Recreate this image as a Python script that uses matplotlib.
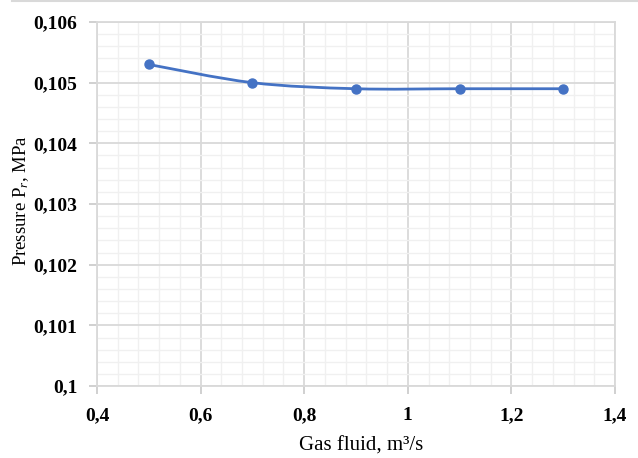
import matplotlib
matplotlib.use("Agg")
import matplotlib.pyplot as plt
import numpy as np
from matplotlib.path import Path
from matplotlib.patches import PathPatch
from matplotlib.ticker import MultipleLocator, FuncFormatter
from matplotlib.lines import Line2D

plt.rcParams['font.family'] = ['Liberation Serif', 'DejaVu Serif']
plt.rcParams['mathtext.fontset'] = 'custom'
plt.rcParams['mathtext.rm'] = 'Liberation Serif'
plt.rcParams['mathtext.it'] = 'Liberation Serif:italic'

# data
gas_flow = [0.5, 0.7, 0.9, 1.1, 1.3]
pressure = [0.1053, 0.1050, 0.1049, 0.1049, 0.1049]

line_color = '#4472C4'
major_grid = '#d9d9d9'
minor_grid = '#f0f0f0'

fig = plt.figure(figsize=(6.38, 4.58), dpi=100)
ax = fig.add_axes([0.152, 0.157, 0.812, 0.795])

# smoothed line like Excel: cubic bezier segments through the points
x = np.array(gas_flow)
y = np.array(pressure)
verts = [(x[0], y[0])]
codes = [Path.MOVETO]
n = len(x)
for i in range(n - 1):
    p0 = (x[i - 1], y[i - 1]) if i > 0 else (x[i], y[i])
    p3 = (x[i + 2], y[i + 2]) if i + 2 < n else (x[i + 1], y[i + 1])
    c1 = (x[i] + (x[i + 1] - p0[0]) / 6, y[i] + (y[i + 1] - p0[1]) / 6)
    c2 = (x[i + 1] - (p3[0] - x[i]) / 6, y[i + 1] - (p3[1] - y[i]) / 6)
    verts += [c1, c2, (x[i + 1], y[i + 1])]
    codes += [Path.CURVE4] * 3
ax.add_patch(PathPatch(Path(verts, codes), facecolor='none', edgecolor=line_color,
                       lw=2, zorder=3))
ax.plot(gas_flow, pressure, 'o', color=line_color, markersize=6.5, zorder=4)

ax.set_xlim(0.4, 1.4)
ax.set_ylim(0.1, 0.106)
ax.xaxis.set_major_locator(MultipleLocator(0.2))
ax.xaxis.set_minor_locator(MultipleLocator(0.04))
ax.yaxis.set_major_locator(MultipleLocator(0.001))
ax.yaxis.set_minor_locator(MultipleLocator(0.0002))

def comma_fmt(v, pos):
    return f"{round(v, 4):g}".replace('.', ',')

ax.xaxis.set_major_formatter(FuncFormatter(comma_fmt))
ax.yaxis.set_major_formatter(FuncFormatter(comma_fmt))

ax.grid(which='major', color=major_grid, lw=1.3, zorder=1)
ax.grid(which='minor', color=minor_grid, lw=1.0, zorder=0)
ax.set_axisbelow(True)

for s in ax.spines.values():
    s.set_color(major_grid)
    s.set_linewidth(1.3)

ax.tick_params(which='major', length=6, width=1.2, color='#c8c8c8',
               labelsize=14, pad=9)
ax.tick_params(axis='y', pad=8)
ax.tick_params(which='minor', length=0)
for lab in ax.get_xticklabels() + ax.get_yticklabels():
    lab.set_fontweight('bold')

ax.set_xlabel('Gas fluid, m³/s', fontsize=15)
ax.set_ylabel(r'Pressure P$_{\mathit{r}}$, MPa', fontsize=13.5)
ax.xaxis.set_label_coords(0.51, -0.138)
ax.yaxis.set_label_coords(-0.127, 0.51)

fig.add_artist(Line2D([0.019, 1.0], [0.998, 0.998], transform=fig.transFigure,
                      color='#d9d9d9', lw=1.5))

fig.savefig('out.png', dpi=100)
